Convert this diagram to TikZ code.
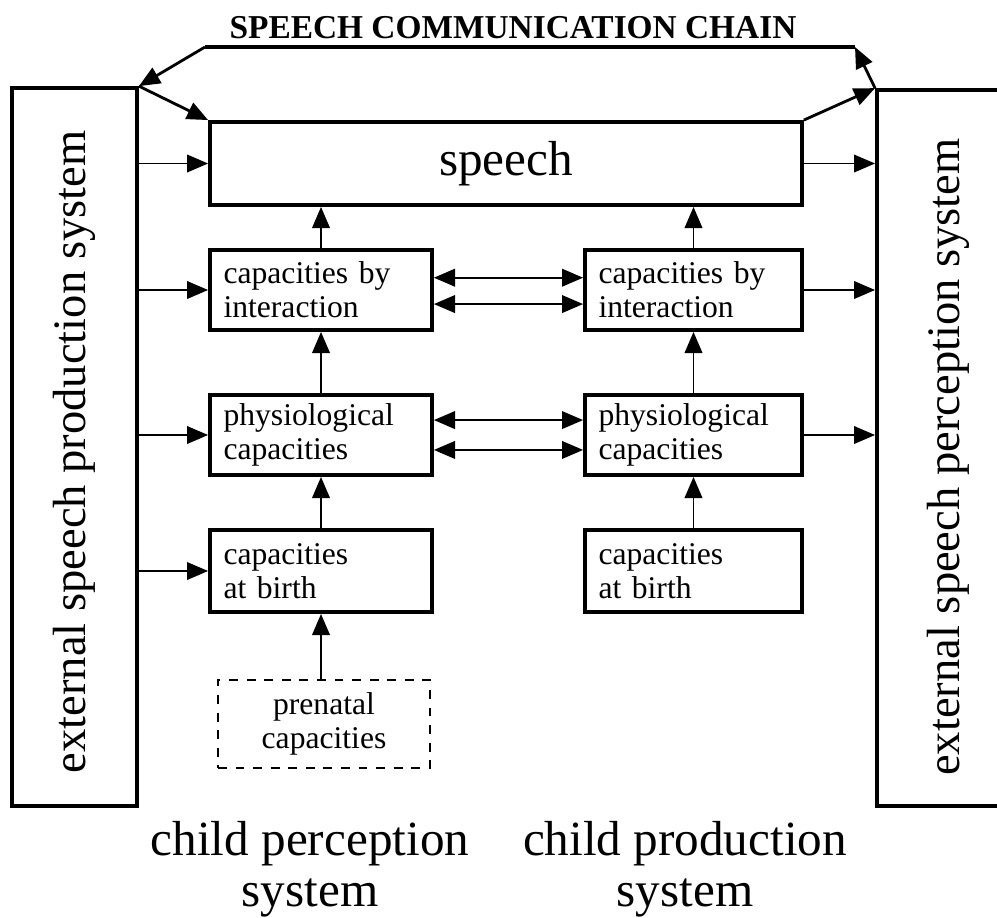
\documentclass[tikz,border=0pt]{standalone}
\usepackage{fontspec}
\setmainfont{Liberation Serif}
\usepackage{tikz}
\usetikzlibrary{arrows.meta, calc}

\begin{document}
\begin{tikzpicture}[
  x=0.02cm, y=-0.02cm,
  capbox/.style={draw, line width=2.2pt, minimum width=4.44cm, minimum height=1.6cm, text width=3.9cm, align=left, font=\fontsize{18}{19.5}\selectfont},
  sidebox/.style={draw, line width=2.2pt},
  sidetext/.style={rotate=90, font=\fontsize{26.5}{28}\selectfont},
  childtext/.style={align=center, font=\fontsize{28}{29}\selectfont},
  arr/.style={-{Triangle[length=12pt, width=10pt]}, line width=1.1pt},
  darr/.style={{Triangle[length=12pt, width=10pt]}-{Triangle[length=12pt, width=10pt]}, line width=1.1pt},
  >=Stealth
]
\useasboundingbox (0,0) rectangle (997,917);

% Title and outer systems
\node[font=\fontsize{19}{20}\selectfont\bfseries] (title) at (513,28) {SPEECH COMMUNICATION CHAIN};
\node[sidebox, minimum width=2.5cm, minimum height=14.36cm] (lprod) at (74.5,447) {};
\node[sidetext] at (74,452) {external speech production system};
\node[sidebox, minimum width=2.72cm, minimum height=14.32cm] (rperc) at (945,448) {};
\node[sidetext] at (948,457) {external speech perception system};

% Speech
\node[draw, line width=2.2pt, minimum width=11.84cm, minimum height=1.66cm, font=\fontsize{28}{30}\selectfont] (speech) at (506,163.5) {speech};

% Left column: child perception
\node[capbox] (lint) at (321,290) {capacities by\\interaction};
\node[capbox] (lphys) at (321,435) {physiological\\capacities};
\node[capbox, minimum height=1.64cm] (lbirth) at (321,571) {capacities\\at birth};
\node[capbox, dashed, dash pattern=on 5pt off 5pt, line width=1.5pt, minimum width=4.24cm, minimum height=1.76cm, text width=3.6cm, align=center] (pren) at (324,724) {prenatal\\capacities};

% Right column: child production
\node[capbox, minimum width=4.34cm, text width=3.8cm] (rint) at (693.5,290) {capacities by\\interaction};
\node[capbox, minimum width=4.34cm, text width=3.8cm] (rphys) at (693.5,435) {physiological\\capacities};
\node[capbox, minimum width=4.34cm, text width=3.8cm, minimum height=1.64cm] (rbirth) at (693.5,571) {capacities\\at birth};

% Bottom labels
\node[childtext] (lchild) at (310,869) {child perception\\system};
\node[childtext] (rchild) at (685,869) {child production\\system};

% Communication chain loop
\coordinate (chainL) at (205,47);
\coordinate (chainR) at (855,47);
\draw[line width=2.2pt] (chainL) -- (chainR);
\draw[arr, line width=1.6pt] (chainL) -- (lprod.north east);
\draw[arr, line width=1.6pt] (lprod.north east) -- (speech.north west);
\draw[arr, line width=1.6pt] (speech.north east) -- (rperc.north west);
\draw[arr, line width=1.6pt] (rperc.north west) -- (chainR);

% Production system feeds the child perception column
\draw[arr] (lprod.east |- speech.west) -- (speech.west);
\draw[arr] (lprod.east |- lint.west) -- (lint.west);
\draw[arr] (lprod.east |- lphys.west) -- (lphys.west);
\draw[arr] (lprod.east |- lbirth.west) -- (lbirth.west);

% Child production column feeds the perception system
\draw[arr] (speech.east) -- (rperc.west |- speech.east);
\draw[arr] (rint.east) -- (rperc.west |- rint.east);
\draw[arr] (rphys.east) -- (rperc.west |- rphys.east);

% Upward development
\draw[arr] (pren.north -| lbirth.south) -- (lbirth.south);
\draw[arr] (lbirth.north) -- (lphys.south);
\draw[arr] (lphys.north) -- (lint.south);
\draw[arr] (lint.north) -- (lint.north |- speech.south);
\draw[arr] (rbirth.north) -- (rphys.south);
\draw[arr] (rphys.north) -- (rint.south);
\draw[arr] (rint.north) -- (rint.north |- speech.south);

% Interaction between the two columns
\draw[darr] ([yshift=7pt]lint.east) -- ([yshift=7pt]lint.east -| rint.west);
\draw[darr] ([yshift=-8pt]lint.east) -- ([yshift=-8pt]lint.east -| rint.west);
\draw[darr] ([yshift=8.5pt]lphys.east) -- ([yshift=8.5pt]lphys.east -| rphys.west);
\draw[darr] ([yshift=-8.5pt]lphys.east) -- ([yshift=-8.5pt]lphys.east -| rphys.west);
\end{tikzpicture}
\end{document}
